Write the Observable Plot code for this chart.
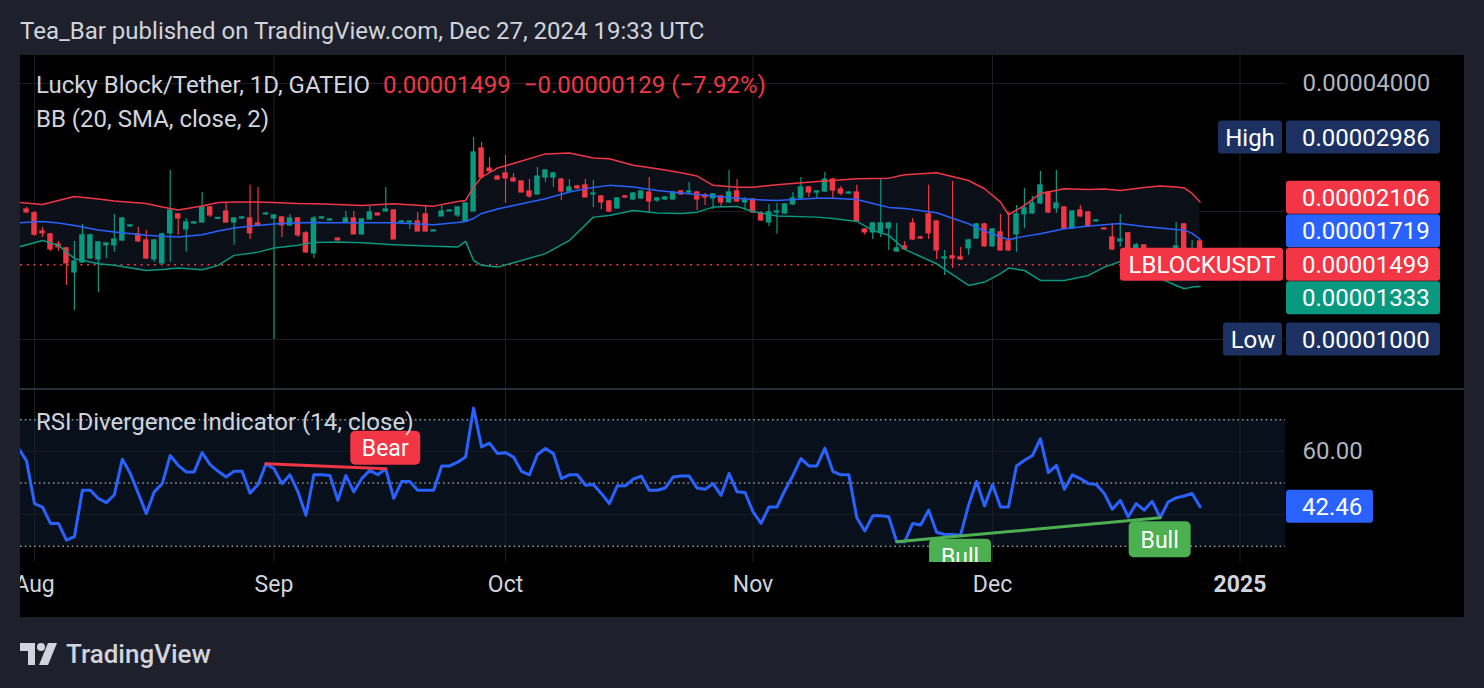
<!DOCTYPE html>
<html>
<head>
<meta charset="utf-8">
<script src="https://cdn.jsdelivr.net/npm/d3@7"></script>
<script src="https://cdn.jsdelivr.net/npm/@observablehq/plot@0.6"></script>
<style>
  html, body { margin:0; padding:0; width:1484px; height:688px; overflow:hidden; background:#1e212b; font-family: Roboto, "Noto Sans", sans-serif; }
  #title { position:absolute; left:20px; top:17px; font-size:24px; line-height:28px; color:#d1d4dc; white-space:nowrap; }
  #chart { position:absolute; left:20px; top:55px; width:1444px; height:562px; background:#000; overflow:hidden; }
  #mainPane { position:absolute; left:0; top:0; width:1444px; height:333px; }
  #sep { position:absolute; left:0; top:333px; width:1444px; height:2px; background:#2a2e39; }
  #rsiPane { position:absolute; left:0; top:335px; width:1444px; height:227px; }
  .leg { position:absolute; left:16px; font-size:24px; line-height:26px; color:#d1d4dc; white-space:pre; z-index:5; }
  .red { color:#f23645; margin-left:13px; }
  #footer { position:absolute; left:20px; top:640px; height:28px; display:flex; align-items:center; gap:9px; color:#d1d4dc; font-size:26px; font-weight:500; }
  svg { display:block; }
</style>
</head>
<body>
<div id="title">Tea_Bar published on TradingView.com, Dec 27, 2024 19:33 UTC</div>
<div id="chart">
  <div id="mainPane"></div>
  <div id="sep"></div>
  <div id="rsiPane"></div>
  <div class="leg" id="leg1" style="top:17px"></div>
  <div class="leg" style="top:51px">BB (20, SMA, close, 2)</div>
  <div class="leg" style="top:354px">RSI Divergence Indicator (14, close)</div>
</div>
<div id="footer">
  <svg width="37" height="22" viewBox="0 0 37 22"><path d="M0 0h15v22h-7v-14h-8z" fill="#d1d4dc"/><circle cx="21" cy="4" r="4" fill="#d1d4dc"/><path d="M28 0h9l-9 22h-9z" fill="#d1d4dc"/></svg>
  <span>TradingView</span>
</div>
<script>
// ---------- DATA (prices in units of 0.00000001 USDT) ----------
// daily bars, numbered from the first bar of August (0)
const barIndex = d3.range(-1, 147);
const open = [2022, // -1
  1982,1795,1767,1674,1638,1438,1518,1551,1543,1665,   // 0-9
  1665,1710,1845,1767,1710,1543,1510,1777,1969,1815,   // 10-19
  1875,1885,2045,1921,2000,1885,1926,1926,1875,1969,   // 20-29
  1926,1937,1855,1926,1777,1594,1926,1905,1728,1885,   // 30-39
  1926,1767,1916,1979,2000,2011,1885,1885,1895,1969,   // 40-49
  1795,1947,2000,1958,1895,2000,2814,2524,2416,2458,   // 50-59
  2391,2354,2229,2194,2404,2404,2378,2229,2291,2304,   // 60-69
  2194,2170,2112,2034,2170,2135,2147,2217,2123,2135,   // 70-79
  2135,2229,2217,2217,2182,2147,2170,2101,2229,2101,   // 80-89
  2135,1979,1885,1990,1979,2078,2147,2279,2217,2229,   // 90-99
  2378,2254,2205,2217,1815,1786,1786,1825,1611,1656,   // 100-109
  1875,1738,1969,1895,1551,1569,1560,1638,1728,1865,   // 110-119
  1656,1786,1701,1767,1969,1979,2089,2217,2034,2045,   // 120-129
  1825,2011,1990,1895,1825,1738,1701,1777,1620,1665,   // 130-139
  1577,1620,1551,1603,1865,1603,1701];                 // 140-146
const high = [2045,
  2000,1835,1777,1701,1647,1701,1865,1767,1701,1683,
  1969,1937,1865,1835,1805,1719,1777,2498,1979,1926,
  1895,2217,2056,1937,2101,1937,1947,2304,2279,1990,
  1969,1947,1969,1937,1795,1947,1947,1926,1728,2000,
  2000,1916,2056,1979,2279,2022,1905,1895,1990,2067,
  1815,2067,2022,2045,2101,2986,2907,2679,2429,2710,
  2458,2354,2378,2538,2511,2472,2391,2378,2304,2378,
  2366,2182,2123,2158,2182,2217,2241,2404,2158,2170,
  2229,2241,2341,2229,2205,2205,2182,2498,2378,2158,
  2147,2000,2078,2089,2089,2217,2404,2291,2241,2472,
  2391,2291,2229,2304,1825,1885,2378,1885,1875,1701,
  1926,1748,2304,1905,1620,2354,1647,1719,1875,1875,
  1825,1969,1990,2067,2266,2170,2485,2229,2498,2056,
  2011,2067,2000,1916,1825,1875,1969,1786,1683,1665,
  1620,1620,1620,1885,1875,1710,1719];
const low = [1979,
  1748,1738,1611,1611,1340,1170,1510,1543,1290,1551,
  1603,1701,1835,1692,1543,1518,1502,1518,1758,1603,
  1865,1875,1937,1916,1875,1665,1916,1719,1845,1958,
  1000,1738,1845,1738,1594,1551,1916,1905,1710,1885,
  1767,1758,1916,1958,2000,1719,1885,1815,1795,1795,
  1795,1947,2000,1937,1885,2000,2391,2472,2366,2089,
  2341,2217,2147,2182,2341,2279,2123,2229,2254,2158,
  2045,2022,1990,2022,2147,2123,2135,1979,2101,2123,
  2123,2182,2194,2011,2067,2022,2045,2089,2101,2011,
  1979,1895,1845,1767,1969,2067,2135,2158,2147,2217,
  2135,2182,2194,1885,1758,1719,1738,1620,1603,1620,
  1710,1719,1719,1543,1415,1469,1534,1577,1719,1647,
  1647,1611,1611,1603,1825,1969,2078,1979,1979,1815,
  1815,1937,1835,1895,1815,1620,1647,1620,1569,1577,
  1560,1551,1543,1586,1603,1594,1493];
const close = [1990,
  1764,1777,1629,1647,1510,1526,1758,1758,1692,1683,
  1719,1926,1855,1701,1551,1710,1767,2011,1926,1885,
  1885,2045,1958,1932,1885,1926,1937,1777,1855,1979,
  1958,1855,1926,1758,1603,1926,1937,1916,1710,1926,
  1767,1916,1990,1958,2022,1719,1895,1895,1795,1795,
  1805,2000,2011,2045,2089,2754,2404,2485,2378,2391,
  2354,2217,2170,2416,2498,2458,2229,2279,2266,2158,
  2205,2101,2000,2147,2158,2205,2229,2112,2147,2158,
  2217,2194,2229,2135,2158,2194,2101,2217,2112,2123,
  1990,1905,1990,2000,2078,2147,2279,2217,2229,2378,
  2241,2205,2217,1895,1786,1875,1875,1875,1638,1629,
  1719,1728,1777,1620,1560,1551,1543,1710,1865,1656,
  1815,1620,1620,1969,2034,2089,2304,1990,2089,1825,
  2000,1947,1845,1905,1815,1629,1719,1638,1665,1577,
  1620,1551,1620,1656,1620,1628,1499];

// Bollinger Bands (20, SMA, close, 2)
const bandIndex = [-2,1,3,5,8,10, 14,16,18,21,23,25, 28,30,33,35,38,41, 45,50,53,54,55,56,
  58,60,64,67,70,72, 75,78,81,83,85,88, 90,93,98,100,103,105, 107,109,113,117,119,121,
  122,124,126,129,132,134, 136,139,141,143,144,145, 146];
const upper = [2101,2078,2123,2170,2141,2117, 2089,2050,2017,2061,2101,2106, 2106,2101,2089,2086,2078,2067,
  2086,2059,2112,2123,2282,2410, 2530,2595,2732,2747,2671,2662, 2568,2522,2468,2423,2304,2282,
  2282,2312,2354,2366,2388,2392, 2396,2441,2468,2366,2262,2104, 1965,2067,2206,2262,2254,2260,
  2241,2279,2295,2285,2272,2206, 2106];
const middle = [1882,1895,1880,1855,1810,1789, 1758,1748,1742,1764,1800,1830, 1855,1870,1882,1885,1882,1882,
  1882,1862,1885,1895,1926,1979, 2028,2067,2143,2223,2279,2304, 2285,2241,2211,2194,2176,2150,
  2134,2123,2150,2150,2134,2089, 2045,2033,1987,1872,1800,1743, 1719,1748,1774,1822,1850,1862,
  1875,1845,1830,1815,1810,1777, 1719];
const lower = [1650,1710,1665,1549,1507,1494, 1453,1461,1472,1459,1494,1577, 1605,1641,1665,1692,1695,1689,
  1671,1656,1650,1701,1534,1494, 1480,1515,1592,1710,1940,1958, 2011,1985,1979,1993,2048,2056,
  2000,1951,1940,1926,1895,1805, 1758,1629,1507,1340,1365,1428, 1472,1453,1377,1377,1415,1480,
  1526,1469,1392,1340,1316,1328, 1333];

// RSI (14, close)
const rsiIndex = d3.range(-2, 147);
const rsiValues = [61,57,43.5,42.4,37.2,37.2,31.9,33,47.7,47.7,
  45.1,43.8,46.3,57.5,53,46.7,40.3,47.2,49.8,58.7,
  55.6,53.5,53.5,59.6,55.8,53.7,51.9,53.7,53.7,46.8,
  49.5,56.1,54.5,49.8,52.6,47.2,39.8,52.6,52.6,52.4,
  44.5,52.4,47.2,51.4,54,52.6,54.5,45.1,50.5,50.5,
  47.7,47.7,47.7,55.4,55.4,56.6,58.2,73.7,61.4,62.6,
  59.3,59.6,58.2,53.7,52.6,59,60.9,59.3,51.4,52.6,
  52.6,49.3,49.5,46.7,43.5,49.1,49.1,51.2,52.2,47.7,
  47.7,48.4,51.9,52.2,52.2,48.4,48,49.8,46.1,53,
  47.2,47,40.9,37.2,42.4,42.4,47.7,52.4,57.7,55.4,
  55.4,61,53.7,52.6,52.6,39,34.8,39.6,39.6,39.3,
  31.4,31.4,37.2,36.7,41.4,34.4,33.7,33.7,33.5,43,
  50.5,42.7,49.5,42.4,42.4,55.4,57.2,58.7,64,53.3,
  55.6,48,52.6,51.4,49.8,49.5,46.7,41.7,44.5,39.3,
  43.5,41.4,44.2,39,44,45.3,45.9,46.7,42.46];
const bearIdx = [29, 44], bearVal = [56.1, 54.5];
const bullIdx = [108, 141], bullVal = [31.4, 39.0];
const bullLabelIdx = [116, 141];
const bearLabelIdx = [44];

const monthTicks = [0, 30, 59, 90, 120, 151];
const monthLabels = ["Aug", "Sep", "Oct", "Nov", "Dec", "2025"];
const priceGrid = [1000, 2000, 4000];
const priceAxisTicks = [4000];
const rsiLevels = [70, 50, 30];
const rsiGrid = [60, 40];
const rsiAxisTicks = [60];
const highValue = 2986, lowValue = 1000;

// ---------- STYLE ----------
const UP = "#089981", DOWN = "#f23645", BLUE = "#2962ff", GRID = "#1b1e25", NAVY = "#1c3161";
const fmt = v => (v * 1e-8).toFixed(8);

const lastClose = close[close.length - 1];
const prevClose = close[close.length - 2];
const chg = lastClose - prevClose;
document.getElementById("leg1").innerHTML =
  `Lucky Block/Tether, 1D, GATEIO<span class="red">${fmt(lastClose)}</span><span class="red">${chg < 0 ? "\u2212" : "+"}${fmt(Math.abs(chg))} (${chg < 0 ? "\u2212" : "+"}${(Math.abs(chg) / prevClose * 100).toFixed(2)}%)</span>`;

const bars = barIndex.map((i, k) => ({i, o: open[k], h: high[k], l: low[k], c: close[k]}));
const bands = bandIndex.map((i, k) => ({i, u: upper[k], m: middle[k], lo: lower[k]}));
const candleColor = d => d.c >= d.o ? UP : DOWN;
const baseStyle = {background: "transparent", color: "#d1d4dc", fontFamily: "Roboto, sans-serif", fontSize: "23px", overflow: "hidden"};
const xOpts = {domain: [0, 151], range: [14, 1219.5], axis: null};

const mainSvg = Plot.plot({
  width: 1444, height: 333, marginLeft: 0, marginRight: 179, marginTop: 0, marginBottom: 0,
  style: baseStyle,
  x: xOpts,
  y: {type: "log", domain: [1000, 4000], range: [284, 28], axis: null},
  color: {type: "identity"},
  marks: [
    Plot.ruleY(priceGrid, {stroke: GRID}),
    Plot.ruleX(monthTicks, {stroke: GRID}),
    Plot.areaY(bands, {x: "i", y1: "lo", y2: "u", fill: "#0b0f17", clip: true}),
    Plot.ruleY([lastClose], {stroke: DOWN, strokeWidth: 1.5, strokeDasharray: "2,4.7"}),
    Plot.ruleX(bars, {x: "i", y1: "l", y2: "h", stroke: candleColor, strokeWidth: 1.2, clip: true}),
    Plot.rect(bars, {x1: d => d.i - 0.34, x2: d => d.i + 0.34, y1: "o", y2: "c", fill: candleColor, insetTop: -0.6, insetBottom: -0.6, clip: true}),
    Plot.line(bands, {x: "i", y: "u", stroke: DOWN, strokeWidth: 1.5, clip: true}),
    Plot.line(bands, {x: "i", y: "m", stroke: BLUE, strokeWidth: 1.5, clip: true}),
    Plot.line(bands, {x: "i", y: "lo", stroke: UP, strokeWidth: 1.5, clip: true}),
    Plot.text(priceAxisTicks, {y: d => d, frameAnchor: "right", dx: 17, textAnchor: "start", text: d => fmt(d), fill: "#b2b5be", fontSize: 24})
  ]
});
document.getElementById("mainPane").appendChild(mainSvg);

const rsiData = rsiIndex.map((i, k) => ({i, v: rsiValues[k]}));
const bearLine = bearIdx.map((i, k) => ({i, v: bearVal[k]}));
const bullLine = bullIdx.map((i, k) => ({i, v: bullVal[k]}));
const monthData = monthTicks.map((t, k) => ({t, label: monthLabels[k]}));

const rsiSvg = Plot.plot({
  width: 1444, height: 227, marginLeft: 0, marginRight: 179, marginTop: 0, marginBottom: 55,
  style: baseStyle,
  x: xOpts,
  y: {domain: [30, 70], range: [155.7, 29.3], axis: null},
  marks: [
    Plot.ruleY(rsiGrid, {stroke: GRID}),
    Plot.ruleX(monthTicks, {stroke: GRID}),
    Plot.ruleY(rsiLevels, {stroke: "#8a8d96", strokeDasharray: "1.7,3", strokeWidth: 1.4}),
    Plot.line(rsiData, {x: "i", y: "v", stroke: BLUE, strokeWidth: 3, clip: true}),
    Plot.line(bearLine, {x: "i", y: "v", stroke: DOWN, strokeWidth: 3}),
    Plot.line(bullLine, {x: "i", y: "v", stroke: "#4caf50", strokeWidth: 3}),
    Plot.text(monthData.filter(d => d.label !== "2025"), {x: "t", frameAnchor: "bottom", dy: 29, text: "label", fill: "#d1d4dc", fontSize: 23}),
    Plot.text(monthData.filter(d => d.label === "2025"), {x: "t", frameAnchor: "bottom", dy: 29, text: "label", fill: "#d1d4dc", fontSize: 23, fontWeight: "bold"}),
    Plot.text(rsiAxisTicks, {y: d => d, frameAnchor: "right", dx: 17, textAnchor: "start", text: d => d.toFixed(2), fill: "#b2b5be", fontSize: 24})
  ]
});
document.getElementById("rsiPane").appendChild(rsiSvg);

// ---------- OVERLAYS drawn with the plots' own scales ----------
function scaleFn(svg, name, fallback) {
  const s = svg.scale(name);
  return (s && s.apply) ? (v => s.apply(v)) : fallback;
}
const yM = scaleFn(mainSvg, "y", d3.scaleLog().domain([1000, 4000]).range([284, 28]));
const xM = scaleFn(mainSvg, "x", d3.scaleLinear().domain([0, 151]).range([14, 1219.5]));
const yR = scaleFn(rsiSvg, "y", d3.scaleLinear().domain([30, 70]).range([155.7, 29.3]));

function tag(g, x, w, yc, h, fill, text, tx, anchor, size, rx) {
  g.append("rect").attr("x", x).attr("y", yc - h / 2).attr("width", w).attr("height", h).attr("rx", rx || 3).attr("fill", fill);
  g.append("text").attr("x", tx).attr("y", yc).attr("dy", "0.36em").attr("text-anchor", anchor || "start")
    .attr("fill", "#ffffff").attr("font-size", size || 24).attr("font-family", "Roboto, sans-serif").text(text);
}

// RSI band background (below everything)
const sR = d3.select(rsiSvg);
sR.insert("rect", "g").attr("x", 0).attr("width", 1265).attr("y", yR(70)).attr("height", yR(30) - yR(70)).attr("fill", "#07101b");

const gM = d3.select(mainSvg).append("g");
// High / Low
tag(gM, 1198, 64, yM(highValue), 33, NAVY, "High", 1230, "middle");
tag(gM, 1266, 154, yM(highValue), 33, NAVY, fmt(highValue), 1282);
tag(gM, 1203, 59, yM(lowValue), 33, NAVY, "Low", 1233, "middle");
tag(gM, 1266, 154, yM(lowValue), 33, NAVY, fmt(lowValue), 1282);

// last values, stacked to avoid overlap
const tags = [
  {v: upper[upper.length - 1], fill: DOWN},
  {v: middle[middle.length - 1], fill: BLUE},
  {v: lastClose, fill: DOWN, main: true},
  {v: lower[lower.length - 1], fill: UP}
].map(t => ({...t, y: yM(t.v)}));
const H = 33.5;
const mainTag = tags.find(t => t.main);
let edge = mainTag.y;
for (const t of tags.filter(t => !t.main && t.y <= mainTag.y).sort((a, b) => b.y - a.y)) { t.y = Math.min(t.y, edge - H); edge = t.y; }
edge = mainTag.y;
for (const t of tags.filter(t => !t.main && t.y > mainTag.y).sort((a, b) => a.y - b.y)) { t.y = Math.max(t.y, edge + H); edge = t.y; }
for (const t of tags) tag(gM, 1266, 154, t.y, 33, t.fill, fmt(t.v), 1282);
tag(gM, 1100, 163, mainTag.y, 33, DOWN, "LBLOCKUSDT", 1182, "middle");

// RSI overlays
const defs = sR.append("defs");
defs.append("clipPath").attr("id", "rsiClip").append("rect").attr("x", 0).attr("y", 0).attr("width", 1265).attr("height", 172);
const gR = sR.append("g").attr("clip-path", "url(#rsiClip)");
const xR = scaleFn(rsiSvg, "x", xM);
for (const i of bearLabelIdx) {
  const k = rsiIndex.indexOf(i);
  const yb = yR(rsiValues[k]) - 3.5;
  tag(gR, xR(i) - 35, 70, yb - 17, 34, DOWN, "Bear", xR(i), "middle", 23, 5);
}
for (const i of bullLabelIdx) {
  const k = rsiIndex.indexOf(i);
  const yt = yR(rsiValues[k]) + 4;
  tag(gR, xR(i) - 31, 62, yt + 18, 36, "#4caf50", "Bull", xR(i), "middle", 23, 5);
}
const lastRsi = rsiValues[rsiValues.length - 1];
tag(sR.append("g"), 1266, 87, yR(lastRsi), 33, BLUE, lastRsi.toFixed(2), 1282);
</script>
</body>
</html>
